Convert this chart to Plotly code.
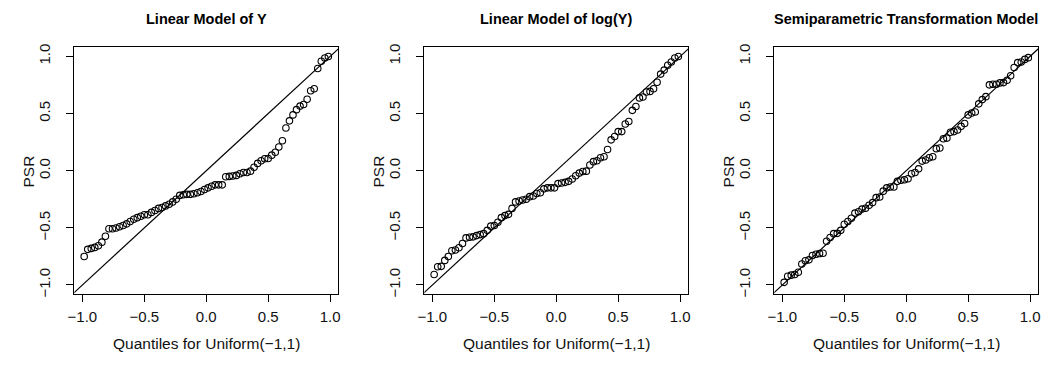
import plotly.graph_objects as go

# Theoretical quantiles of Uniform(-1,1), n = 70
uniform_quantiles = [
    -0.9857, -0.9571, -0.9286, -0.9000, -0.8714, -0.8429, -0.8143, -0.7857, -0.7571, -0.7286,
    -0.7000, -0.6714, -0.6429, -0.6143, -0.5857, -0.5571, -0.5286, -0.5000, -0.4714, -0.4429,
    -0.4143, -0.3857, -0.3571, -0.3286, -0.3000, -0.2714, -0.2429, -0.2143, -0.1857, -0.1571,
    -0.1286, -0.1000, -0.0714, -0.0429, -0.0143, 0.0143, 0.0429, 0.0714, 0.1000, 0.1286,
    0.1571, 0.1857, 0.2143, 0.2429, 0.2714, 0.3000, 0.3286, 0.3571, 0.3857, 0.4143,
    0.4429, 0.4714, 0.5000, 0.5286, 0.5571, 0.5857, 0.6143, 0.6429, 0.6714, 0.7000,
    0.7286, 0.7571, 0.7857, 0.8143, 0.8429, 0.8714, 0.9000, 0.9286, 0.9571, 0.9857,
]

psr_linear_y = [
    -0.751, -0.688, -0.680, -0.671, -0.657, -0.625, -0.574, -0.508, -0.508, -0.502,
    -0.491, -0.479, -0.465, -0.445, -0.425, -0.411, -0.399, -0.385, -0.385, -0.365,
    -0.348, -0.330, -0.322, -0.308, -0.293, -0.273, -0.250, -0.216, -0.210, -0.207,
    -0.207, -0.202, -0.193, -0.182, -0.165, -0.150, -0.136, -0.124, -0.124, -0.124,
    -0.053, -0.050, -0.047, -0.041, -0.027, -0.016, -0.016, -0.004, 0.030, 0.064,
    0.087, 0.104, 0.107, 0.136, 0.162, 0.207, 0.262, 0.373, 0.436, 0.488,
    0.534, 0.565, 0.579, 0.625, 0.700, 0.717, 0.894, 0.957, 0.986, 0.999,
]

psr_linear_logy = [
    -0.908, -0.840, -0.837, -0.785, -0.751, -0.700, -0.694, -0.674, -0.637, -0.588,
    -0.582, -0.579, -0.568, -0.559, -0.551, -0.522, -0.485, -0.479, -0.451, -0.411,
    -0.393, -0.382, -0.330, -0.273, -0.265, -0.256, -0.250, -0.227, -0.222, -0.199,
    -0.193, -0.159, -0.150, -0.150, -0.150, -0.113, -0.107, -0.102, -0.093, -0.073,
    -0.044, -0.021, -0.007, -0.004, 0.050, 0.079, 0.087, 0.113, 0.122, 0.185,
    0.270, 0.299, 0.342, 0.342, 0.408, 0.431, 0.528, 0.562, 0.637, 0.645,
    0.688, 0.694, 0.717, 0.774, 0.845, 0.880, 0.923, 0.951, 0.986, 0.999,
]

psr_semiparametric = [
    -0.977, -0.923, -0.914, -0.908, -0.888, -0.817, -0.788, -0.780, -0.742, -0.731,
    -0.725, -0.722, -0.617, -0.585, -0.551, -0.548, -0.522, -0.468, -0.445, -0.416,
    -0.371, -0.359, -0.336, -0.328, -0.302, -0.279, -0.236, -0.230, -0.179, -0.150,
    -0.142, -0.142, -0.093, -0.084, -0.079, -0.070, -0.027, -0.016, 0.016, 0.084,
    0.093, 0.113, 0.122, 0.193, 0.199, 0.279, 0.285, 0.336, 0.342, 0.356,
    0.388, 0.413, 0.488, 0.505, 0.514, 0.585, 0.622, 0.648, 0.751, 0.757,
    0.757, 0.768, 0.771, 0.791, 0.831, 0.903, 0.946, 0.951, 0.974, 0.989,
]

panel_titles = ["Linear Model of Y", "Linear Model of log(Y)", "Semiparametric Transformation Model"]
x_title = "Quantiles for Uniform(\u22121,1)"
y_title = "PSR"
tick_vals = [-1.0, -0.5, 0.0, 0.5, 1.0]
tick_text = ["\u22121.0", "\u22120.5", "0.0", "0.5", "1.0"]
ref_line = [-1.2, 1.2]

W, H = 1050, 365
FONT = "Liberation Sans, Arial, Helvetica, sans-serif"
panel_left = [68, 421, 774]
panel_width = 266
plot_top, plot_bottom = 45, 296

series = [psr_linear_y, psr_linear_logy, psr_semiparametric]

fig = go.Figure()
annotations = []
for k, ys in enumerate(series):
    xa = "x" if k == 0 else f"x{k+1}"
    ya = "y" if k == 0 else f"y{k+1}"
    fig.add_trace(go.Scatter(
        x=ref_line, y=ref_line, mode="lines",
        line=dict(color="black", width=1.2), xaxis=xa, yaxis=ya,
        showlegend=False, hoverinfo="skip"))
    fig.add_trace(go.Scatter(
        x=uniform_quantiles, y=ys, mode="markers",
        marker=dict(symbol="circle-open", size=6.5, color="black", line=dict(width=1.1, color="black")),
        xaxis=xa, yaxis=ya, showlegend=False))
    l = panel_left[k]
    r = l + panel_width
    dom_x = [l / W, r / W]
    dom_y = [1 - plot_bottom / H, 1 - plot_top / H]
    axis_common = dict(
        showline=True, mirror=True, linecolor="black", linewidth=1.2,
        ticks="outside", ticklen=7, tickwidth=1, tickcolor="black",
        showgrid=False, zeroline=False,
        tickvals=tick_vals, ticktext=tick_text,
        tickfont=dict(family=FONT, size=15, color="#111111"),
    )
    xkey = "xaxis" if k == 0 else f"xaxis{k+1}"
    ykey = "yaxis" if k == 0 else f"yaxis{k+1}"
    fig.update_layout({
        xkey: dict(domain=dom_x, range=[-1.0646, 1.0646], anchor=ya,
                   ticklabelstandoff=2, **axis_common),
        ykey: dict(domain=dom_y, range=[-1.08, 1.08], anchor=xa, tickangle=-90,
                   ticklabelstandoff=10, **axis_common),
    })
    cx = (l + r) / 2
    annotations.append(dict(
        x=cx / W, y=1 - 16 / H, xref="paper", yref="paper", text=f"<b>{panel_titles[k]}</b>",
        showarrow=False, font=dict(family=FONT, size=14.5, color="black"),
        xanchor="center", yanchor="middle"))
    annotations.append(dict(
        x=cx / W, y=1 - 346.5 / H, xref="paper", yref="paper", text=x_title,
        showarrow=False, font=dict(family=FONT, size=15.5, color="#111111"),
        xanchor="center", yanchor="middle"))
    annotations.append(dict(
        x=(l - 46.5) / W, y=1 - 171 / H, xref="paper", yref="paper", text=y_title,
        showarrow=False, textangle=-90, font=dict(family=FONT, size=15.5, color="#111111"),
        xanchor="center", yanchor="middle"))

fig.update_layout(
    width=W, height=H, margin=dict(l=0, r=0, t=0, b=0),
    paper_bgcolor="white", plot_bgcolor="white",
    annotations=annotations, showlegend=False,
)
fig.write_html("out.html")
